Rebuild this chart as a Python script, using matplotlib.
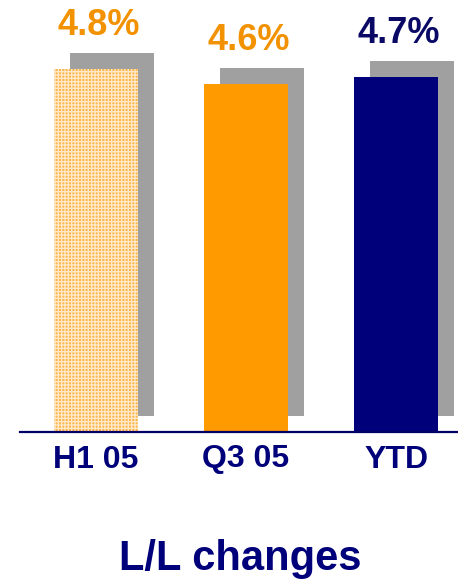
import matplotlib
matplotlib.use("Agg")
import matplotlib.pyplot as plt

plt.rcParams['font.family'] = ['Liberation Sans', 'DejaVu Sans']
plt.rcParams['hatch.linewidth'] = 0.9

# data
categories = ["H1 05", "Q3 05", "YTD"]
values = [4.8, 4.6, 4.7]
labels = ["4.8%", "4.6%", "4.7%"]

NAVY = "#00007A"
ORANGE = "#F39200"
bar_colors = ["#FDB54E", "#FF9A00", NAVY]
label_colors = [ORANGE, ORANGE, "#0A0A66"]

fig = plt.figure(figsize=(4.58, 5.81), dpi=100)
ax = fig.add_axes([20/458, 149/581, 438/458, 432/581])

x = list(range(len(categories)))
width = 0.56
dx = 16/150.0      # shadow offset, right
dy = 16/75.6       # shadow offset, up

# grey shadows behind each bar
ax.bar([i + dx for i in x], values, width=width, bottom=dy,
       color="#A0A0A0", zorder=1)

bars = ax.bar(x, values, width=width, color=bar_colors, zorder=2,
              linewidth=0)
# first bar has a checkered fill
bars[0].set_hatch("+++++")
bars[0].set_edgecolor("#FFEBCB")
bars[0].set_linewidth(0)

for i, v in enumerate(values):
    ax.annotate(labels[i], (i + 0.02, v + dy), xytext=(0, 13),
                textcoords="offset points", ha="center", va="baseline",
                fontsize=26, fontweight="bold", color=label_colors[i])

ax.set_xlim(-0.507, -0.507 + 438/150.0)
ax.set_ylim(0, 432/75.6)
ax.set_xticks(x)
ax.set_xticklabels(categories, fontsize=23, fontweight="bold", color=NAVY)
ax.tick_params(axis="x", length=0, pad=9)
ax.set_yticks([])
for s in ["top", "right", "left"]:
    ax.spines[s].set_visible(False)
ax.spines["bottom"].set_color("#000066")
ax.spines["bottom"].set_linewidth(1.6)
ax.patch.set_alpha(0)

fig.text(240/458, 11/581, "L/L changes", ha="center", va="baseline",
         fontsize=30, fontweight="bold", color=NAVY)

fig.savefig("out.png", dpi=100)
